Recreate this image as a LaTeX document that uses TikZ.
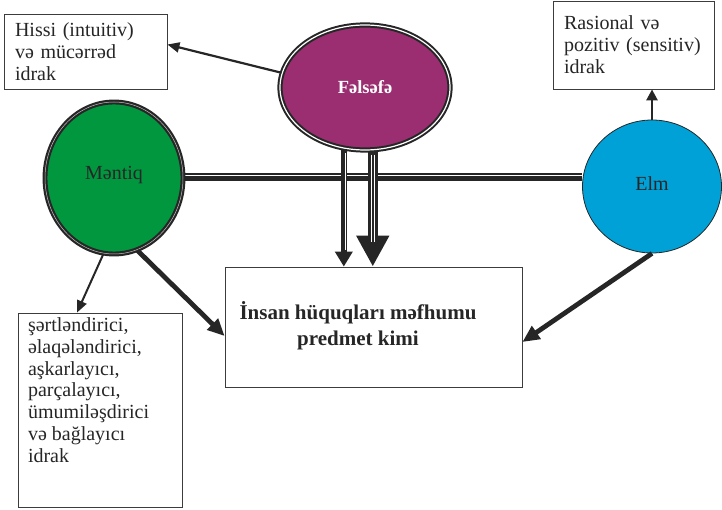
\documentclass[tikz,border=0pt]{standalone}
\usepackage{fontspec}
\setmainfont{Liberation Serif}
\usetikzlibrary{shapes.geometric, arrows.meta}
\definecolor{ink}{HTML}{262626}
\definecolor{boxline}{HTML}{3C3C3C}
\definecolor{felsefecol}{HTML}{9A2E71}
\definecolor{mentiqcol}{HTML}{00973F}
\definecolor{elmcol}{HTML}{00A1D7}

\begin{document}
\begin{tikzpicture}[x=1pt, y=1pt, text=ink,
        idrak/.style={draw=boxline, line width=0.8pt, fill=white, align=left,
            inner xsep=11pt, font=\fontsize{20}{22}\selectfont},
        fikir/.style={ellipse, draw=ink, font=\fontsize{20}{24}\selectfont},
        thinarrow/.style={draw=ink, line width=2.2pt, -{Triangle[length=12pt, width=10pt]}},
        heavyarrow/.style={draw=ink, line width=4.8pt, -{Triangle[length=17pt, width=15pt]}},
        stripe/.style={draw=white, line width=0.7pt}]
        \useasboundingbox (0,0) rectangle (722,509);

        \node[idrak, minimum width=163pt, minimum height=75pt, text width=141pt] (hissi) at (85.5,457.5)
            {Hissi (intuitiv)\\və mücərrəd\\idrak};
        \node[idrak, minimum width=161pt, minimum height=88pt, text width=139pt] (rasional) at (633.5,464)
            {Rasional və\\pozitiv (sensitiv)\\idrak};
        \node[draw=boxline, line width=0.8pt, inner xsep=10pt, inner ysep=5pt,
            font=\fontsize{20}{21.7}\selectfont] (sifat) at (100,99)
            {\parbox[c][184pt][t]{144pt}{\raggedright şərtləndirici,\\əlaqələndirici,\\aşkarlayıcı,\\parçalayıcı,\\ümumiləşdirici\\və bağlayıcı\\idrak}};
        \node[draw=boxline, line width=0.8pt, minimum width=297pt, minimum height=120pt,
            font=\fontsize{21}{26}\bfseries] (main) at (373.5,182)
            {\begin{tabular}{@{}c@{}}İnsan hüquqları məfhumu\\predmet kimi\end{tabular}\hspace*{31pt}};

        \node[fikir, minimum width=170pt, minimum height=125pt, fill=felsefecol, line width=2pt,
            double=white, double distance=1.2pt, text=white, font=\fontsize{18.5}{22}\bfseries] (felsefe) at (365,421.5) {Fəlsəfə};
        \node[fikir, minimum width=138pt, minimum height=152pt, fill=mentiqcol, line width=2.2pt,
            double=gray!50, double distance=0.5pt] (mentiq) at (114,331) {\raisebox{11pt}{Məntiq}};
        \node[fikir, minimum width=139pt, minimum height=133pt, fill=elmcol, line width=0.8pt] (elm) at (652,322.5)
            {\raisebox{6pt}{Elm}};

        % Mentiq -- Elm
        \draw[ink, line width=5pt] ([yshift=-1pt]mentiq.east) -- ([yshift=-1pt]mentiq.east -| elm.west);
        \draw[ink, line width=1.5pt] ([yshift=4pt]mentiq.east) -- ([yshift=4pt]mentiq.east -| elm.west);

        \draw[thinarrow] (felsefe.170) -- ([yshift=7pt]hissi.east);
        \draw[thinarrow, line width=2pt] (mentiq.262) -- ([xshift=-23pt]sifat.north);
        \draw[thinarrow, line width=2.6pt, -{Triangle[length=11pt, width=11pt]}] (elm.north) -- (elm.north |- rasional.south);
        \draw[heavyarrow] (mentiq.288) -- ([yshift=-9pt]main.west);
        \draw[heavyarrow] (elm.south) -- ([yshift=-15pt]main.east);

        % Felsefe -- main
        \draw[ink, line width=6pt, -{Triangle[length=15pt, width=17pt]}] (felsefe.251) -- (felsefe.251 |- main.north);
        \draw[stripe] ([xshift=1.2pt, yshift=-4pt]felsefe.251) -- ([xshift=1.2pt, yshift=17pt]felsefe.251 |- main.north);
        \draw[ink, line width=10pt, -{Triangle[length=31pt, width=31pt]}] (felsefe.277) -- (felsefe.277 |- main.north);
        \draw[stripe] ([xshift=-1.8pt, yshift=-4pt]felsefe.277) -- ([xshift=-1.8pt, yshift=25pt]felsefe.277 |- main.north);
        \draw[stripe] ([xshift=1.8pt, yshift=-4pt]felsefe.277) -- ([xshift=1.8pt, yshift=25pt]felsefe.277 |- main.north);
\end{tikzpicture}
\end{document}
